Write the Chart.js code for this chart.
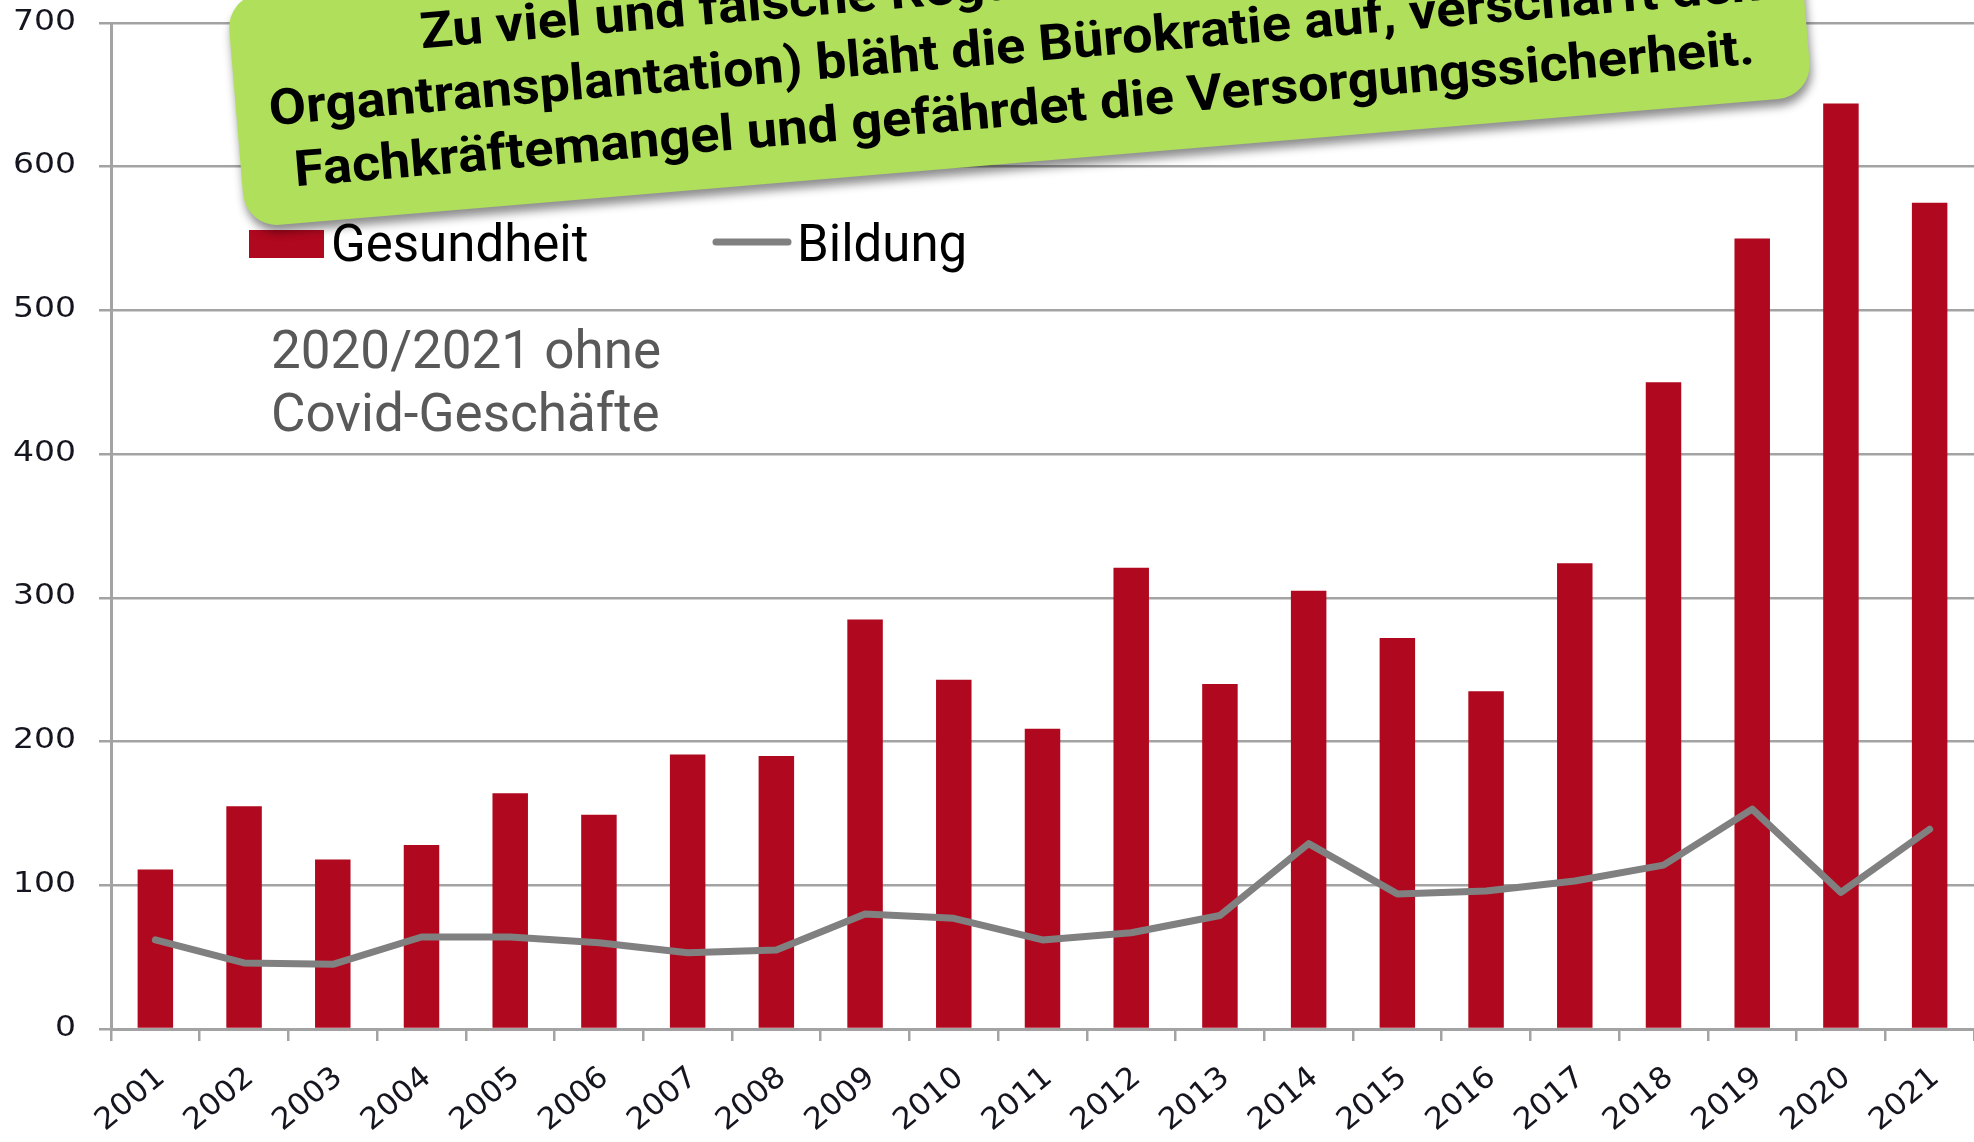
<!DOCTYPE html>
<html lang="de">
<head>
    <meta charset="UTF-8">
    <title>Gesundheit und Bildung</title>
    <script src="https://cdn.jsdelivr.net/npm/chart.js"></script>
    <style>
        body { margin: 0; background: #fff; }
        #wrap { width: 1974px; height: 1142px; }
    </style>
</head>
<body>
    <div id="wrap"><canvas id="chart" width="1974" height="1142"></canvas></div>

    <script>
        // data
        const years = ['2001', '2002', '2003', '2004', '2005', '2006', '2007', '2008', '2009', '2010', '2011',
                       '2012', '2013', '2014', '2015', '2016', '2017', '2018', '2019', '2020', '2021'];
        const gesundheit = [111, 155, 118, 128, 164, 149, 191, 190, 285, 243, 209, 321, 240, 305, 272, 235, 324, 450, 550, 644, 575];
        const bildung = [62, 46, 45, 64, 64, 60, 53, 55, 80, 77, 62, 67, 79, 129, 94, 96, 103, 114, 153, 95, 139];
        const yMin = 0, yMax = 700, yStep = 100;
        const noteLines = ['2020/2021 ohne', 'Covid-Geschäfte'];
        const bannerLines = [
            'Zu viel und falsche Regulierung',
            'Organtransplantation) bläht die Bürokratie auf, verschärft den',
            'Fachkräftemangel und gefährdet die Versorgungssicherheit.'
        ];

        const RED = 'rgb(176, 8, 30)';
        const GREY = '#808080';
        const GRID = '#a3a3a3';

        // tick labels in a wide face, stretched sideways like the original
        const tickLabels = {
            id: 'tickLabels',
            afterDraw(chart) {
                const ctx = chart.ctx;
                const y = chart.scales.y, x = chart.scales.x;
                ctx.save();
                ctx.fillStyle = '#15151f';
                ctx.textAlign = 'right';
                ctx.textBaseline = 'middle';
                ctx.font = '29px "DejaVu Sans"';
                y.ticks.forEach(t => {
                    ctx.save();
                    ctx.translate(76, y.getPixelForValue(t.value) - 1);
                    ctx.scale(1.14, 1);
                    ctx.fillText(String(t.value), 0, 0);
                    ctx.restore();
                });
                ctx.font = '30px "DejaVu Sans"';
                x.ticks.forEach((t, i) => {
                    ctx.save();
                    ctx.translate(x.getPixelForTick(i) + 6, 1074);
                    ctx.rotate(-40 * Math.PI / 180);
                    ctx.scale(1.05, 1);
                    ctx.fillText(x.getLabelForValue(t.value), 0, 0);
                    ctx.restore();
                });
                ctx.restore();
            }
        };

        // legend, note and the green banner
        const overlay = {
            id: 'overlay',
            afterDraw(chart) {
                const ctx = chart.ctx;
                const ds = chart.data.datasets;
                ctx.save();

                ctx.fillStyle = ds[0].backgroundColor;
                ctx.fillRect(249, 230, 75, 28);
                ctx.fillStyle = '#000';
                ctx.font = '51px Roboto';
                ctx.textBaseline = 'alphabetic';
                ctx.fillText(ds[0].label, 331, 261);

                ctx.strokeStyle = ds[1].borderColor;
                ctx.lineWidth = 7;
                ctx.lineCap = 'round';
                ctx.beginPath();
                ctx.moveTo(716, 242);
                ctx.lineTo(788, 242);
                ctx.stroke();
                ctx.fillText(ds[1].label, 797, 261);

                ctx.fillStyle = '#595959';
                ctx.font = '53px Roboto';
                ctx.fillText(noteLines[0], 271, 368);
                ctx.fillText(noteLines[1], 271, 431);

                // banner, rotated a little
                ctx.translate(1026, 125);
                ctx.rotate(-4.8 * Math.PI / 180);
                ctx.save();
                ctx.shadowColor = 'rgba(0,0,0,0.45)';
                ctx.shadowBlur = 10;
                ctx.shadowOffsetX = 2;
                ctx.shadowOffsetY = 7;
                ctx.fillStyle = 'rgb(176, 224, 91)';
                ctx.beginPath();
                ctx.roundRect(-786, -195, 1572, 232, 34);
                ctx.fill();
                ctx.restore();

                ctx.fillStyle = '#000';
                ctx.font = 'bold 50px Roboto';
                const sx = 1465 / ctx.measureText(bannerLines[2]).width;
                const starts = [[-596, -127], [-753, -63], [-733, 0]];
                bannerLines.forEach((line, i) => {
                    ctx.save();
                    ctx.translate(starts[i][0], starts[i][1]);
                    ctx.scale(sx, 1);
                    ctx.fillText(line, 0, 0);
                    ctx.restore();
                });
                ctx.restore();
            }
        };

        new Chart(document.getElementById('chart'), {
            type: 'bar',
            data: {
                labels: years,
                datasets: [
                    {
                        type: 'bar',
                        label: 'Gesundheit',
                        data: gesundheit,
                        backgroundColor: RED,
                        barPercentage: 0.4,
                        categoryPercentage: 1.0,
                        order: 2
                    },
                    {
                        type: 'line',
                        label: 'Bildung',
                        data: bildung,
                        borderColor: GREY,
                        borderWidth: 7,
                        pointRadius: 0,
                        tension: 0,
                        borderCapStyle: 'round',
                        borderJoinStyle: 'round',
                        order: 1
                    }
                ]
            },
            options: {
                responsive: false,
                animation: false,
                devicePixelRatio: 1,
                layout: { padding: { top: 23, left: 0, right: 0, bottom: 0 } },
                plugins: { legend: { display: false }, tooltip: { enabled: false } },
                scales: {
                    x: {
                        offset: true,
                        grid: { drawOnChartArea: false, color: GRID, lineWidth: 2.5, tickLength: 12, offset: true },
                        border: { color: GRID, width: 3 },
                        ticks: { display: false },
                        afterFit(s) { s.height = 113; }
                    },
                    y: {
                        min: yMin,
                        max: yMax,
                        ticks: { display: false, stepSize: yStep },
                        grid: { color: GRID, lineWidth: 2.5, tickLength: 12 },
                        border: { color: GRID, width: 3 },
                        afterFit(s) { s.width = 111; }
                    }
                }
            },
            plugins: [tickLabels, overlay]
        });
    </script>
</body>
</html>
